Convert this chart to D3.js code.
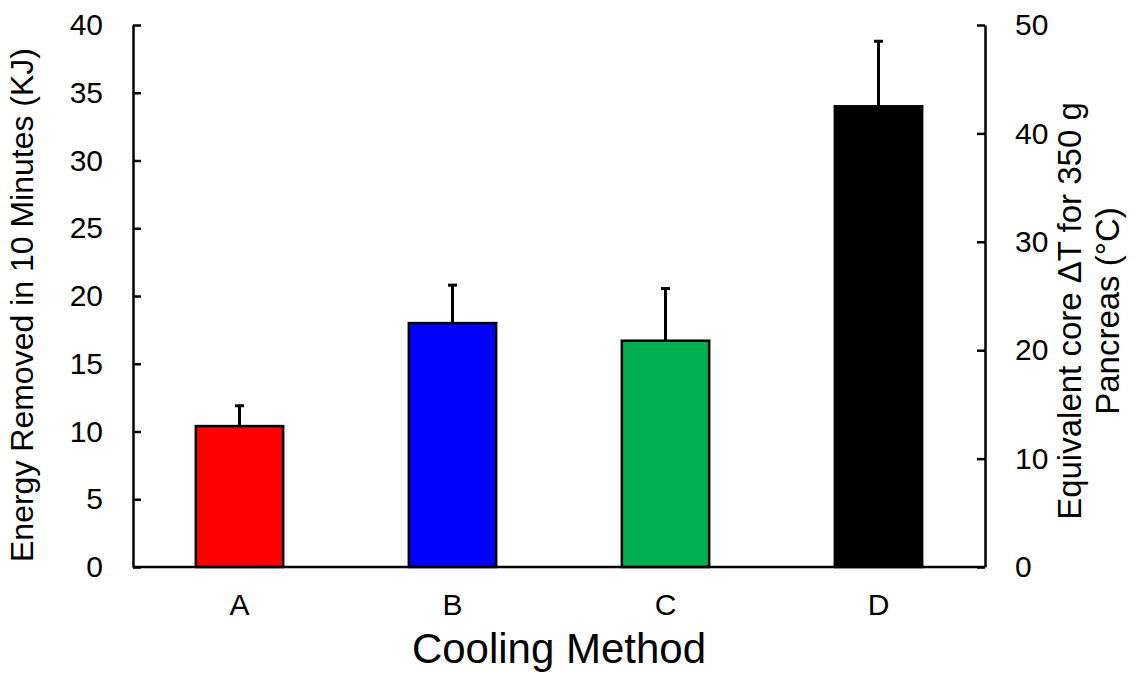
<!DOCTYPE html>
<head>
<meta charset="utf-8">
<script src="https://d3js.org/d3.v7.min.js"></script>
<style>
    body { margin: 0; background: #fff; }
    .chart text { font-family: "Liberation Sans", Arial, sans-serif; fill: #000; }
    .axis path, .axis line { stroke: #000; stroke-width: 2.5px; }
</style>
</head>
<body>
<div id="chart"></div>
<script>
// dados
var methods = ["A", "B", "C", "D"];
var energy = [10.4, 18.0, 16.7, 34.0];      // KJ
var energyErr = [1.5, 2.8, 3.85, 4.8];      // desvio (so para cima)
var barColors = ["#ff0000", "#0000ff", "#00b050", "#000000"];
var leftTicks = [0, 5, 10, 15, 20, 25, 30, 35, 40];
var rightTicks = [0, 10, 20, 30, 40, 50];

var width = 1139, height = 673;
var margin = {top: 25, right: 154, bottom: 106, left: 133};
var w = width - margin.left - margin.right;
var h = height - margin.top - margin.bottom;

var svg = d3.select("#chart").append("svg")
    .attr("class", "chart")
    .attr("width", width)
    .attr("height", height);

var g = svg.append("g")
    .attr("transform", "translate(" + margin.left + "," + margin.top + ")");

var x = d3.scaleBand().domain(methods).range([0, w])
    .paddingInner(0.59).paddingOuter(0.295);
var y = d3.scaleLinear().domain([0, 40]).range([h, 0]);
var y2 = d3.scaleLinear().domain([0, 50]).range([h, 0]);

// barras
g.selectAll("rect.bar")
    .data(energy)
    .enter()
    .append("rect")
    .attr("class", "bar")
    .attr("x", function(d, i) { return x(methods[i]); })
    .attr("y", function(d) { return y(d); })
    .attr("width", x.bandwidth())
    .attr("height", function(d) { return h - y(d); })
    .attr("fill", function(d, i) { return barColors[i]; })
    .attr("stroke", "#000")
    .attr("stroke-width", 2.5);

// barras de erro
var eg = g.selectAll("g.err")
    .data(energy)
    .enter()
    .append("g")
    .attr("class", "err");

eg.append("line")
    .attr("x1", function(d, i) { return x(methods[i]) + x.bandwidth() / 2; })
    .attr("x2", function(d, i) { return x(methods[i]) + x.bandwidth() / 2; })
    .attr("y1", function(d) { return y(d); })
    .attr("y2", function(d, i) { return y(d + energyErr[i]); })
    .attr("stroke", "#000")
    .attr("stroke-width", 3);

eg.append("line")
    .attr("x1", function(d, i) { return x(methods[i]) + x.bandwidth() / 2 - 4.5; })
    .attr("x2", function(d, i) { return x(methods[i]) + x.bandwidth() / 2 + 4.5; })
    .attr("y1", function(d, i) { return y(d + energyErr[i]); })
    .attr("y2", function(d, i) { return y(d + energyErr[i]); })
    .attr("stroke", "#000")
    .attr("stroke-width", 3);

// eixos
var xAxis = g.append("g")
    .attr("class", "axis")
    .attr("transform", "translate(0," + h + ")")
    .call(d3.axisBottom(x).tickSize(0).tickPadding(27));
xAxis.select(".domain").attr("d", "M0,0H" + w);

var yAxis = g.append("g")
    .attr("class", "axis")
    .call(d3.axisLeft(y).tickValues(leftTicks).tickSizeInner(-8).tickSizeOuter(0).tickPadding(30));

var y2Axis = g.append("g")
    .attr("class", "axis")
    .attr("transform", "translate(" + w + ",0)")
    .call(d3.axisRight(y2).tickValues(rightTicks).tickSizeInner(-8).tickSizeOuter(0).tickPadding(30));

g.selectAll(".axis").attr("font-size", null).attr("font-family", null);
g.selectAll(".axis .tick text").style("font-size", "30px");

// titulos
svg.append("text")
    .attr("x", margin.left + w / 2)
    .attr("y", 663)
    .attr("text-anchor", "middle")
    .style("font-size", "42px")
    .text("Cooling Method");

svg.append("text")
    .attr("transform", "translate(33,305) rotate(-90)")
    .attr("text-anchor", "middle")
    .style("font-size", "32px")
    .text("Energy Removed in 10 Minutes (KJ)");

var rt = svg.append("text")
    .attr("transform", "translate(1081,311) rotate(-90)")
    .attr("text-anchor", "middle")
    .style("font-size", "33px");
rt.append("tspan").attr("x", 0).attr("dy", 0).text("Equivalent core \u0394T for  350 g");
rt.append("tspan").attr("x", 0).attr("dy", 38).text("Pancreas (\u00B0C)");
</script>
</body>
